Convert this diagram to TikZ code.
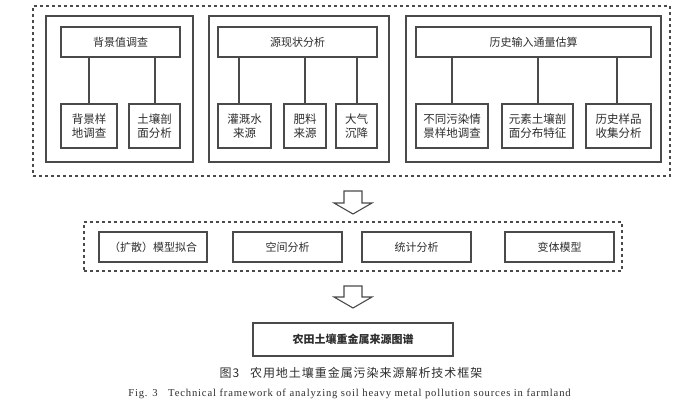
\documentclass[tikz,border=0pt]{standalone}
\usepackage{fontspec}
\setmainfont{Liberation Serif}
\newfontfamily\cjk{Noto Sans CJK SC}
\newfontfamily\cjkcap[LetterSpace=8]{Noto Sans CJK SC}
\newfontfamily\capfont[LetterSpace=8]{Liberation Serif}
\definecolor{linecol}{HTML}{4A4A4A}
\definecolor{txtcol}{HTML}{2E2E2E}
\begin{document}
\begin{tikzpicture}[x=1pt,y=-1pt,
  box/.style={draw=linecol, line width=1.2pt, inner sep=0pt, text=txtcol, align=center,
    font=\cjk\fontsize{11}{14}\selectfont},
  leaf/.style={box, minimum height=44pt, font=\cjk\fontsize{11.5}{14}\selectfont},
  head/.style={box, minimum height=30pt},
  group/.style={draw=linecol, line width=1.2pt, inner sep=0pt},
  dashbox/.style={draw=linecol, line width=1.2pt, inner sep=0pt, dash pattern=on 3pt off 3pt},
  link/.style={draw=linecol, line width=1.2pt},
  blockarrow/.style={draw=linecol, line width=1.1pt, fill=white, line join=miter}]
\useasboundingbox (0,0) rectangle (691,407);
\fill[white] (0,0) rectangle (691,407);
% containers
\node[dashbox, minimum width=637pt, minimum height=170pt] (outer) at (351.5,91) {};
\node[group, minimum width=147pt, minimum height=146pt] (G1) at (119.5,89) {};
\node[group, minimum width=180pt, minimum height=146pt] (G2) at (299,89) {};
\node[group, minimum width=255pt, minimum height=146pt] (G3) at (533.5,89) {};
% headers
\node[head, minimum width=119pt] (H1) at (120.5,42) {背景值调查};
\node[head, minimum width=159pt] (H2) at (297.5,42) {源现状分析};
\node[head, minimum width=235pt] (H3) at (533.5,42) {历史输入通量估算};
% leaves
\node[leaf, minimum width=56pt] (C1a) at (89,126) {背景样\\地调查};
\node[leaf, minimum width=51pt] (C1b) at (154.5,126) {土壤剖\\面分析};
\node[leaf, minimum width=53pt] (C2a) at (244.5,126) {灌溉水\\来源};
\node[leaf, minimum width=42pt] (C2b) at (305,126) {肥料\\来源};
\node[leaf, minimum width=41pt] (C2c) at (356.5,126) {大气\\沉降};
\node[leaf, minimum width=72pt] (C3a) at (452,126) {不同污染情\\景样地调查};
\node[leaf, minimum width=71pt] (C3b) at (537.5,126) {元素土壤剖\\面分布特征};
\node[leaf, minimum width=65pt] (C3c) at (618.5,126) {历史样品\\收集分析};
% links
\draw[link] (C1a.north) -- (C1a.north |- H1.south);
\draw[link] ([xshift=0.5pt]C1b.north) -- ([xshift=0.5pt]C1b.north |- H1.south);
\draw[link] ([xshift=-5.5pt]C2a.north) -- ([xshift=-5.5pt]C2a.north |- H2.south);
\draw[link] (C2b.north) -- (C2b.north |- H2.south);
\draw[link] ([xshift=0.5pt]C2c.north) -- ([xshift=0.5pt]C2c.north |- H2.south);
\draw[link] (C3a.north) -- (C3a.north |- H3.south);
\draw[link] ([xshift=0.5pt]C3b.north) -- ([xshift=0.5pt]C3b.north |- H3.south);
\draw[link] ([xshift=-1.5pt]C3c.north) -- ([xshift=-1.5pt]C3c.north |- H3.south);
% middle row
\node[dashbox, minimum width=538pt, minimum height=49pt] (mid) at (353,246.5) {};
\node[head, minimum width=108pt] (M1) at (153,247) {（扩散）模型拟合};
\node[head, minimum width=109pt] (M2) at (287.5,247) {空间分析};
\node[head, minimum width=109pt] (M3) at (416.5,247) {统计分析};
\node[head, minimum width=109pt] (M4) at (559.5,247) {变体模型};
% final
\node[box, minimum width=200pt, minimum height=33pt, font=\cjk\bfseries\fontsize{11}{14}\selectfont] (F) at (353,339.5) {农田土壤重金属来源图谱};
% block arrows
\coordinate (a1) at (353,191);
\coordinate (a2) at (353,286);
\draw[blockarrow] ([xshift=-9pt]a1) -- ([xshift=9pt]a1) -- ([xshift=9pt,yshift=-12pt]a1) -- ([xshift=19pt,yshift=-12pt]a1) -- ([yshift=-23pt]a1) -- ([xshift=-19pt,yshift=-12pt]a1) -- ([xshift=-9pt,yshift=-12pt]a1) -- cycle;
\draw[blockarrow] ([xshift=-9pt]a2) -- ([xshift=9pt]a2) -- ([xshift=9pt,yshift=-11pt]a2) -- ([xshift=19pt,yshift=-11pt]a2) -- ([yshift=-22pt]a2) -- ([xshift=-19pt,yshift=-11pt]a2) -- ([xshift=-9pt,yshift=-11pt]a2) -- cycle;
% captions
\node[text=txtcol, inner sep=0pt, font=\cjkcap\fontsize{12}{14}\selectfont] (cap1) at (351,373) {图3\hspace{0.9em}农用地土壤重金属污染来源解析技术框架};
\node[text=txtcol, inner sep=0pt, font=\capfont\fontsize{10.6}{12}\selectfont] (cap2) at (349.5,394) {Fig. 3\hspace{1em}Technical framework of analyzing soil heavy metal pollution sources in farmland};
\end{tikzpicture}
\end{document}
